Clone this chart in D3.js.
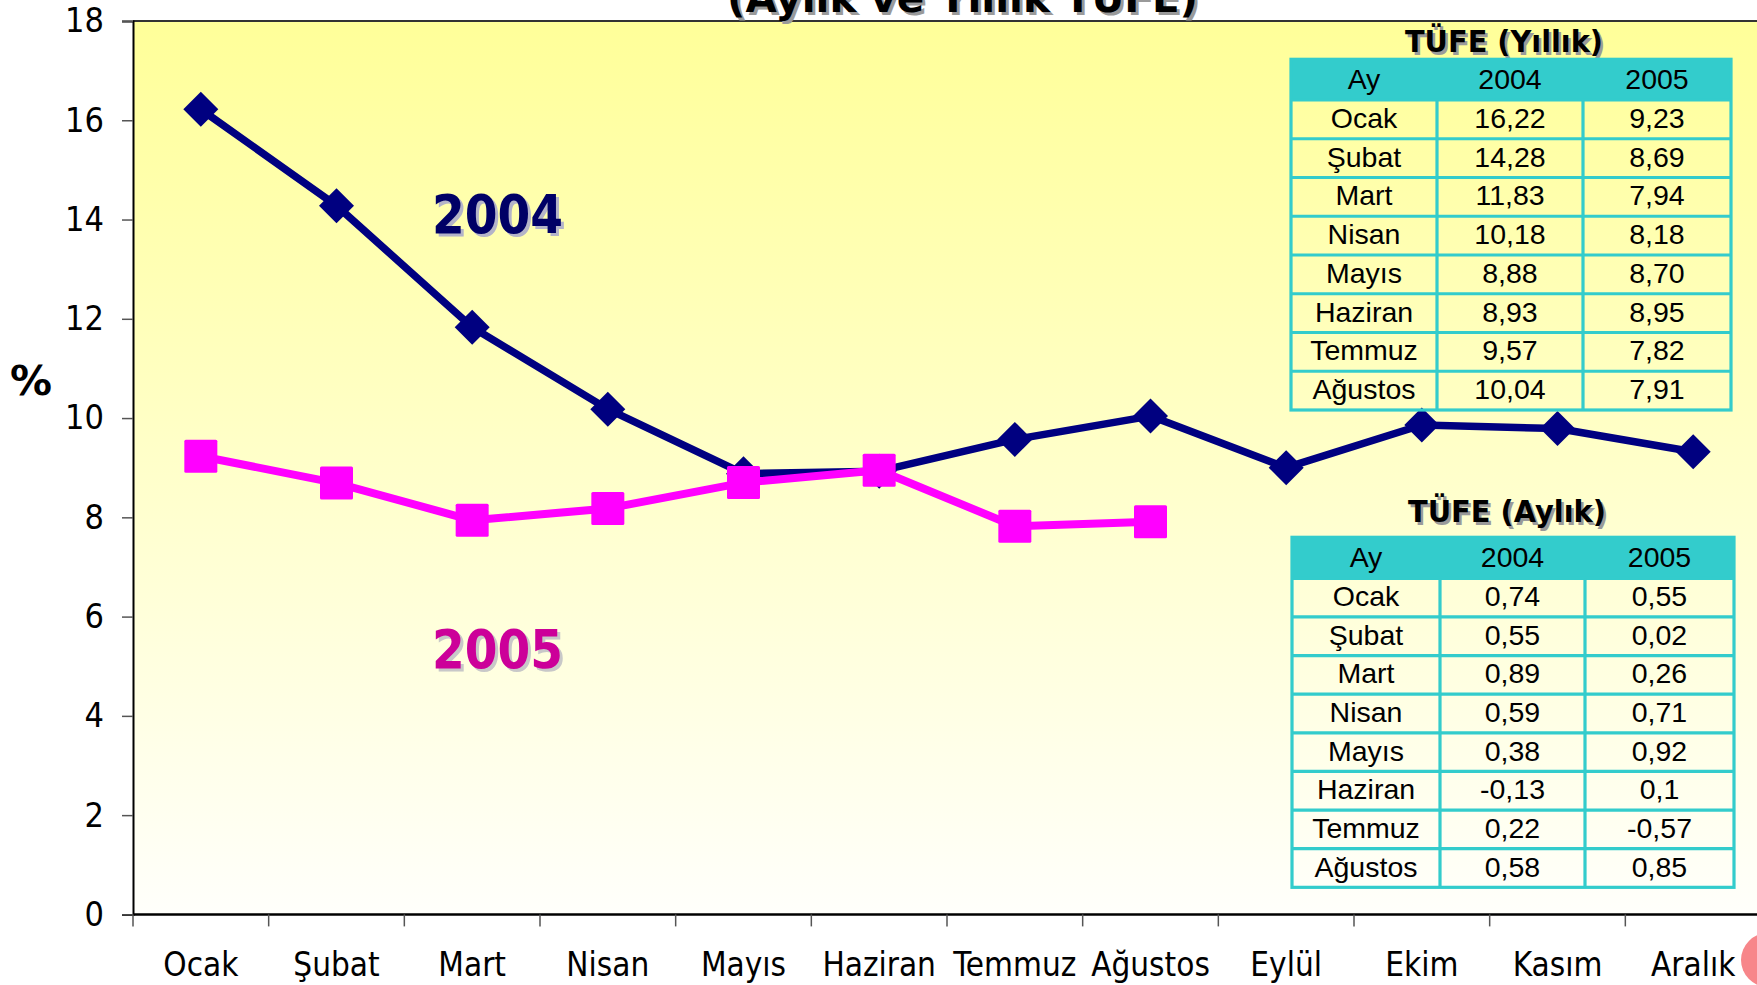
<!DOCTYPE html>
<html>
<head>
<meta charset="utf-8">
<script src="https://cdn.jsdelivr.net/npm/d3@7"></script>
<style>
  html, body { margin: 0; padding: 0; background: #ffffff; }
  svg { display: block; }
</style>
</head>
<body>
<svg id="chart" width="1757" height="985"></svg>
<script>
// ---------------- DATA ----------------
const months = ["Ocak", "Şubat", "Mart", "Nisan", "Mayıs", "Haziran", "Temmuz", "Ağustos", "Eylül", "Ekim", "Kasım", "Aralık"];
const annual2004 = [16.22, 14.28, 11.83, 10.18, 8.88, 8.93, 9.57, 10.04, 9.00, 9.86, 9.79, 9.32];
const annual2005 = [9.23, 8.69, 7.94, 8.18, 8.70, 8.95, 7.82, 7.91];
const monthly2004 = [0.74, 0.55, 0.89, 0.59, 0.38, -0.13, 0.22, 0.58];
const monthly2005 = [0.55, 0.02, 0.26, 0.71, 0.92, 0.1, -0.57, 0.85];
const tableMonths = months.slice(0, 8);
const tableHeader = ["Ay", "2004", "2005"];
const yTicks = [0, 2, 4, 6, 8, 10, 12, 14, 16, 18];
const titleText = "(Aylık ve Yıllık TÜFE)";
const tableTitleAnnual = "TÜFE (Yıllık)";
const tableTitleMonthly = "TÜFE (Aylık)";

// ---------------- LAYOUT ----------------
const svg = d3.select("#chart");
const plot = { left: 133, right: 1761, top: 21, bottom: 914.4 };

const x = d3.scaleBand().domain(months).range([plot.left, plot.right]).padding(0);
const y = d3.scaleLinear().domain([0, 18]).range([plot.bottom, plot.top]);
const cx = m => x(m) + x.bandwidth() / 2;

const defs = svg.append("defs");
const grad = defs.append("linearGradient").attr("id", "bg").attr("x1", 0).attr("y1", 0).attr("x2", 0).attr("y2", 1);
grad.append("stop").attr("offset", "0%").attr("stop-color", "#FFFF99");
grad.append("stop").attr("offset", "100%").attr("stop-color", "#FFFFFB");

// plot background
svg.append("rect")
  .attr("x", plot.left).attr("y", plot.top)
  .attr("width", plot.right - plot.left).attr("height", plot.bottom - plot.top)
  .attr("fill", "url(#bg)");
// top border
svg.append("line").attr("x1", plot.left).attr("x2", plot.right).attr("y1", plot.top).attr("y2", plot.top)
  .attr("stroke", "#333").attr("stroke-width", 2);

// title (partly clipped at the top, as in the reference)
const titleG = svg.append("g").attr("font-family", "'DejaVu Sans', Verdana, sans-serif").attr("font-weight", "bold").attr("font-size", 40);
titleG.append("text").attr("x", 727 + 3).attr("y", 12 + 3).attr("textLength", 471).attr("lengthAdjust", "spacingAndGlyphs")
  .attr("fill", "#9a9a9a").text(titleText);
titleG.append("text").attr("x", 727).attr("y", 12).attr("textLength", 471).attr("lengthAdjust", "spacingAndGlyphs")
  .attr("fill", "#000").text(titleText);

// y axis
const yAxis = d3.axisLeft(y).tickValues(yTicks).tickSize(11).tickPadding(18).tickFormat(d3.format("d"));
const yg = svg.append("g").attr("transform", `translate(${plot.left},0)`).call(yAxis);
yg.select(".domain").attr("stroke", "#000").attr("stroke-width", 2);
yg.selectAll(".tick line").attr("stroke", "#555").attr("stroke-width", 1.5);
yg.selectAll(".tick text").attr("font-family", "'DejaVu Sans Condensed', Tahoma, sans-serif").attr("font-size", 34).attr("fill", "#000");

// x axis: ticks between categories, labels centred
const xg = svg.append("g").attr("transform", `translate(0,${plot.bottom})`);
xg.append("line").attr("x1", plot.left).attr("x2", plot.right).attr("y1", 0).attr("y2", 0)
  .attr("stroke", "#000").attr("stroke-width", 2.5);
xg.selectAll("line.tk").data(months).join("line").attr("class", "tk")
  .attr("x1", d => x(d)).attr("x2", d => x(d)).attr("y1", 0).attr("y2", 12)
  .attr("stroke", "#555").attr("stroke-width", 1.5);
xg.selectAll("text.lbl").data(months).join("text").attr("class", "lbl")
  .attr("x", d => cx(d)).attr("y", 62).attr("text-anchor", "middle")
  .attr("font-family", "'DejaVu Sans Condensed', Tahoma, sans-serif").attr("font-size", 33).attr("fill", "#000")
  .text(d => d);

// % label
svg.append("text").attr("x", 10).attr("y", 395).attr("font-family", "'DejaVu Sans', Verdana, sans-serif")
  .attr("font-weight", "bold").attr("font-size", 40).attr("textLength", 42).attr("lengthAdjust", "spacingAndGlyphs").text("%");

// lines
const line = d3.line().x((d, i) => cx(months[i])).y(d => y(d));
svg.append("path").datum(annual2004).attr("d", line).attr("fill", "none")
  .attr("stroke", "#000080").attr("stroke-width", 7.5).attr("stroke-linejoin", "round");
svg.selectAll("path.dia").data(annual2004).join("path").attr("class", "dia")
  .attr("d", (d, i) => { const px = cx(months[i]), py = y(d), r = 17.5; return `M${px},${py - r}L${px + r},${py}L${px},${py + r}L${px - r},${py}Z`; })
  .attr("fill", "#000080");

svg.append("path").datum(annual2005).attr("d", line).attr("fill", "none")
  .attr("stroke", "#FF00FF").attr("stroke-width", 8).attr("stroke-linejoin", "round");
svg.selectAll("rect.sq").data(annual2005).join("rect").attr("class", "sq")
  .attr("x", (d, i) => cx(months[i]) - 16.5).attr("y", d => y(d) - 16.5)
  .attr("width", 33).attr("height", 33).attr("rx", 1.5).attr("fill", "#FF00FF");

// series labels
function shadowText(xp, yp, txt, color, shadow, size, len) {
  const g = svg.append("g").attr("font-family", "'DejaVu Sans', Verdana, sans-serif").attr("font-weight", "bold").attr("font-size", size);
  g.append("text").attr("x", xp + 3).attr("y", yp + 3).attr("fill", shadow)
    .attr("textLength", len).attr("lengthAdjust", "spacingAndGlyphs").text(txt);
  g.append("text").attr("x", xp).attr("y", yp).attr("fill", color)
    .attr("textLength", len).attr("lengthAdjust", "spacingAndGlyphs").text(txt);
}
shadowText(432, 233, "2004", "#000066", "#b4b4c8", 54, 131);
shadowText(432, 668, "2005", "#CC0099", "#c8c8c8", 54, 131);

// tables
function drawTable(opts) {
  const { cols, top, headH, rowH, rows, title, titleX, titleY } = opts;
  const g = svg.append("g");
  const right = cols[cols.length - 1];
  const bottom = top + headH + rowH * rows.length;
  const tg = g.append("g").attr("font-family", "'DejaVu Sans', Verdana, sans-serif").attr("font-weight", "bold").attr("font-size", 30);
  tg.append("text").attr("x", titleX + 2.5).attr("y", titleY + 2.5).attr("fill", "#9a9a9a")
    .attr("textLength", 198).attr("lengthAdjust", "spacingAndGlyphs").text(title);
  tg.append("text").attr("x", titleX).attr("y", titleY).attr("fill", "#000")
    .attr("textLength", 198).attr("lengthAdjust", "spacingAndGlyphs").text(title);
  g.append("rect").attr("x", cols[0]).attr("y", top).attr("width", right - cols[0]).attr("height", headH).attr("fill", "#33CCCC");
  const stroke = "#33CCCC", sw = 3.2;
  g.append("rect").attr("x", cols[0]).attr("y", top).attr("width", right - cols[0]).attr("height", bottom - top)
    .attr("fill", "none").attr("stroke", stroke).attr("stroke-width", sw);
  rows.forEach((r, i) => {
    const yy = top + headH + rowH * i;
    g.append("line").attr("x1", cols[0]).attr("x2", right).attr("y1", yy).attr("y2", yy).attr("stroke", stroke).attr("stroke-width", sw);
  });
  cols.slice(1, -1).forEach(c => {
    g.append("line").attr("x1", c).attr("x2", c).attr("y1", top + headH).attr("y2", bottom).attr("stroke", stroke).attr("stroke-width", sw);
  });
  const tf = g.append("g").attr("font-family", "'Liberation Sans', Arial, sans-serif").attr("font-size", 28.5).attr("fill", "#000").attr("text-anchor", "middle");
  tableHeader.forEach((h, j) => {
    tf.append("text").attr("x", (cols[j] + cols[j + 1]) / 2).attr("y", top + headH / 2).attr("dy", "0.32em").text(h);
  });
  rows.forEach((r, i) => {
    r.forEach((v, j) => {
      tf.append("text").attr("x", (cols[j] + cols[j + 1]) / 2).attr("y", top + headH + rowH * i + rowH / 2).attr("dy", "0.3em").text(v);
    });
  });
}
const fmt2 = v => v.toFixed(2).replace(".", ",");
const fmtRaw = v => String(v).replace(".", ",");

drawTable({
  cols: [1291, 1437, 1583, 1731], top: 59.3, headH: 40.7, rowH: 38.75,
  rows: tableMonths.map((m, i) => [m, fmt2(annual2004[i]), fmt2(annual2005[i])]),
  title: tableTitleAnnual, titleX: 1405, titleY: 52
});
drawTable({
  cols: [1292, 1440, 1585, 1734], top: 537.3, headH: 41, rowH: 38.63,
  rows: tableMonths.map((m, i) => [m, fmtRaw(monthly2004[i]), fmtRaw(monthly2005[i])]),
  title: tableTitleMonthly, titleX: 1408, titleY: 522
});

// decorative circle at bottom right corner
svg.append("circle").attr("cx", 1768).attr("cy", 960).attr("r", 27).attr("fill", "#F7868A");
</script>
</body>
</html>
